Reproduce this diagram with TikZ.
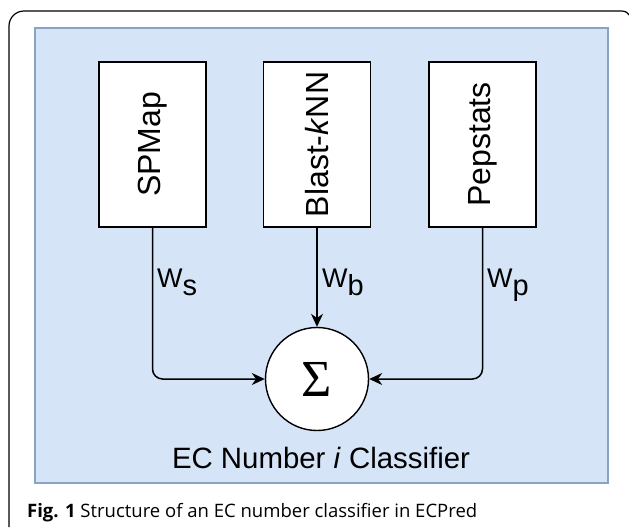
\documentclass[tikz,border=0pt]{standalone}
\usepackage{fontspec}
\newfontfamily\arialf{Liberation Sans}
\newfontfamily\capf{Open Sans}
\newfontfamily\serf{Liberation Serif}
\usetikzlibrary{arrows.meta}
\definecolor{panelfill}{HTML}{D5E4F7}
\definecolor{paneldraw}{HTML}{8AA3C4}
\tikzset{
  panel/.style={fill=panelfill, draw=paneldraw, line width=1.6pt},
  modbox/.style={draw=black, fill=white, line width=1.4pt, rotate=90,
    minimum width=165pt, minimum height=107pt, inner sep=0pt,
    font=\arialf\fontsize{32}{36}\selectfont},
  sumnode/.style={circle, draw=black, fill=white, line width=1.4pt,
    minimum size=103pt, inner sep=0pt, font=\serf\fontsize{52}{52}\selectfont},
  conn/.style={line width=1.5pt, -{Stealth[length=13pt,width=12pt]}, rounded corners=10pt},
  wlab/.style={inner sep=0pt, font=\arialf\fontsize{27}{27}\selectfont},
  frame/.style={line width=1.2pt, draw=black}
}
\newcommand{\subw}[1]{\raisebox{-8pt}{\fontsize{29}{29}\selectfont #1}}
\begin{document}
\begin{tikzpicture}[x=1pt,y=-1pt]
\useasboundingbox (0,0) rectangle (629,528);
\fill[white] (0,0) rectangle (629,528);
% outer frame
\draw[frame] (9,527) -- (9,26) arc[start angle=180, end angle=270, radius=15] -- (621,11)
  .. controls (625,11) and (627,12) .. (629,15);
% panel
\draw[panel] (35,28) rectangle (608,483);
% modules
\node[modbox] (sp) at (152.5,144.5) {SPMap};
\node[modbox] (bk) at (317,144.5) {Blast-\textit{k}NN};
\node[modbox] (ps) at (482.5,144.5) {Pepstats};
% sum
\node[sumnode] (sum) at (317,379) {Σ};
% connectors
\draw[conn] (sp.west) |- (sum.west);
\draw[conn] (bk.west) -- (sum.north);
\draw[conn] (ps.west) |- (sum.east);
% weights
\node[wlab, anchor=base west] (ws) at (157,287) {W\subw{s}};
\node[wlab, anchor=base west] (wb) at (322,287) {W\subw{b}};
\node[wlab, anchor=base west] (wp) at (487,287) {W\subw{p}};
% label
\node[inner sep=0pt, anchor=base, font=\arialf\fontsize{29.4}{30}\selectfont] (lab) at (321,468) {EC Number \textit{i} Classifier};
% caption
\node[inner sep=0pt, anchor=base west, font=\capf\fontsize{18.5}{22}\selectfont] (cap) at (27,517) {\textbf{Fig. 1} Structure of an EC number classifier in ECPred};
\end{tikzpicture}
\end{document}
